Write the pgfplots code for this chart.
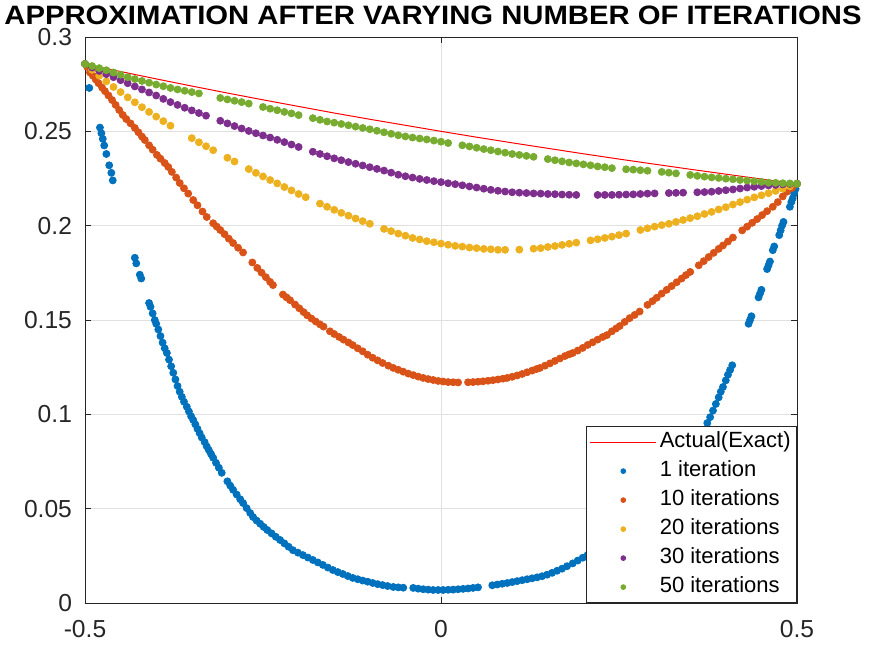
\documentclass[border=0pt]{standalone}
\usepackage{graphicx}
\usepackage{pgfplots}
\pgfplotsset{compat=1.18}
\usepackage{fontspec}
\setmainfont{Liberation Sans}
\definecolor{mblue}{rgb}{0,0.447,0.741}
\definecolor{morange}{rgb}{0.85,0.325,0.098}
\definecolor{myellow}{rgb}{0.929,0.694,0.125}
\definecolor{mpurple}{rgb}{0.494,0.184,0.556}
\definecolor{mgreen}{rgb}{0.466,0.674,0.188}
\definecolor{axgray}{rgb}{0.15,0.15,0.15}
\pgfplotsset{dotser/.style={only marks, mark=*, mark size=1.75pt, color=#1,
  legend image code/.code={\path[draw=none] (0pt,0pt) -- (33pt,0pt); \fill[#1] (16.5pt,0pt) circle (1.2pt);}}}
\begin{document}
\begin{tikzpicture}
\useasboundingbox (-42.5pt,-23.5pt) rectangle (393.5pt,301.5pt);
\begin{axis}[
  at={(0,0)}, anchor=south west,
  scale only axis, width=356pt, height=283pt,
  xmin=-0.5, xmax=0.5, ymin=0, ymax=0.3,
  xtick={-0.5,0,0.5}, xticklabels={-0.5,0,0.5},
  ytick={0,0.05,0.1,0.15,0.2,0.25,0.3},
  yticklabels={0,0.05,0.1,0.15,0.2,0.25,0.3},
  tick label style={font=\fontsize{12.3}{14}\selectfont, text=axgray},
  yticklabel style={xshift=-3pt},
  xticklabel style={yshift=-5pt},
  major tick length=3pt, tick style={axgray},
  axis line style={axgray},
  grid=major, major grid style={black!12},
  title={\scalebox{1.1}[1]{APPROXIMATION AFTER VARYING NUMBER OF ITERATIONS}},
  title style={font=\bfseries\fontsize{13.3}{15}\selectfont, at={(0.5,1)}, anchor=base, yshift=0.5pt, xshift=-4pt},
  legend cell align=left,
  legend style={at={(1,0)}, anchor=south east, draw=axgray, fill=white,
    font=\fontsize{11}{13}\selectfont, text=black, row sep=0pt, column sep=0pt,
    inner xsep=1.5pt, inner ysep=0.5pt,
    nodes={inner xsep=1.5pt, inner ysep=1.5pt, text height=8.5pt, text depth=3pt}},
]
\addplot[red, line width=0.5pt, legend image code/.code={\draw[red, line width=0.5pt] (0pt,0pt) -- (33pt,0pt);}] coordinates {
(-0.5,0.2857) (-0.45,0.2817) (-0.4,0.2778) (-0.35,0.2740) (-0.3,0.2703) (-0.25,0.2667) (-0.2,0.2632) (-0.15,0.2597) (-0.1,0.2564) (-0.05,0.2532) (0,0.25) (0.05,0.2469) (0.1,0.2439) (0.15,0.2410) (0.2,0.2381) (0.25,0.2353) (0.3,0.2326) (0.35,0.2299) (0.4,0.2273) (0.45,0.2247) (0.5,0.2222)};
\addlegendentry{Actual(Exact)}
\addplot[dotser=mblue] table {
-0.500 0.2857
-0.494 0.2730
-0.479 0.2520
-0.477 0.2490
-0.475 0.2460
-0.473 0.2425
-0.470 0.2380
-0.466 0.2320
-0.463 0.2280
-0.461 0.2240
-0.430 0.1830
-0.428 0.1800
-0.423 0.1740
-0.421 0.1720
-0.410 0.1590
-0.408 0.1570
-0.405 0.1535
-0.402 0.1500
-0.400 0.1480
-0.397 0.1450
-0.394 0.1415
-0.391 0.1380
-0.388 0.1350
-0.385 0.1325
-0.382 0.1290
-0.379 0.1255
-0.376 0.1220
-0.373 0.1185
-0.370 0.1150
-0.367 0.1120
-0.364 0.1093
-0.361 0.1067
-0.357 0.1040
-0.354 0.1015
-0.351 0.0990
-0.348 0.0970
-0.345 0.0947
-0.342 0.0923
-0.339 0.0900
-0.336 0.0877
-0.332 0.0853
-0.329 0.0830
-0.326 0.0810
-0.323 0.0790
-0.320 0.0770
-0.316 0.0743
-0.312 0.0717
-0.308 0.0690
-0.300 0.0645
-0.296 0.0622
-0.292 0.0600
-0.287 0.0575
-0.282 0.0550
-0.278 0.0530
-0.273 0.0503
-0.268 0.0477
-0.264 0.0456
-0.259 0.0437
-0.254 0.0420
-0.249 0.0403
-0.244 0.0387
-0.238 0.0369
-0.232 0.0351
-0.226 0.0334
-0.220 0.0316
-0.214 0.0298
-0.208 0.0280
-0.201 0.0267
-0.194 0.0254
-0.187 0.0241
-0.180 0.0228
-0.173 0.0215
-0.166 0.0202
-0.159 0.0188
-0.152 0.0175
-0.145 0.0164
-0.138 0.0154
-0.131 0.0143
-0.124 0.0133
-0.117 0.0126
-0.110 0.0119
-0.103 0.0113
-0.096 0.0106
-0.089 0.0100
-0.082 0.0095
-0.075 0.0090
-0.067 0.0085
-0.060 0.0083
-0.053 0.0081
-0.039 0.0080
-0.032 0.0076
-0.025 0.0073
-0.018 0.0071
-0.011 0.0069
-0.004 0.0069
0.003 0.0069
0.010 0.0070
0.017 0.0071
0.024 0.0073
0.031 0.0075
0.038 0.0077
0.045 0.0080
0.052 0.0083
0.072 0.0094
0.079 0.0098
0.086 0.0102
0.093 0.0106
0.100 0.0111
0.107 0.0116
0.114 0.0121
0.121 0.0126
0.128 0.0131
0.135 0.0136
0.142 0.0142
0.149 0.0150
0.156 0.0160
0.163 0.0171
0.170 0.0182
0.177 0.0195
0.185 0.0210
0.192 0.0225
0.199 0.0240
0.206 0.0255
0.215 0.0272
0.225 0.0295
0.235 0.0320
0.245 0.0345
0.255 0.0375
0.265 0.0410
0.275 0.0445
0.285 0.0485
0.295 0.0525
0.305 0.0570
0.315 0.0615
0.325 0.0665
0.335 0.0718
0.345 0.0775
0.355 0.0835
0.365 0.0895
0.374 0.0954
0.378 0.0985
0.382 0.1020
0.386 0.1055
0.390 0.1090
0.393 0.1120
0.396 0.1145
0.400 0.1180
0.403 0.1210
0.406 0.1235
0.409 0.1260
0.432 0.1480
0.434 0.1500
0.436 0.1520
0.446 0.1620
0.448 0.1640
0.450 0.1660
0.458 0.1770
0.460 0.1790
0.462 0.1810
0.466 0.1870
0.468 0.1890
0.475 0.1950
0.477 0.1975
0.479 0.2000
0.481 0.2020
0.490 0.2100
0.492 0.2125
0.494 0.2145
0.496 0.2170
0.498 0.2195
0.500 0.2222
};
\addlegendentry{1 iteration}
\addplot[dotser=morange] table {
-0.500 0.2857
-0.497 0.2842
-0.493 0.2812
-0.489 0.2795
-0.485 0.2775
-0.481 0.2755
-0.476 0.2732
-0.472 0.2713
-0.467 0.2690
-0.462 0.2666
-0.457 0.2640
-0.452 0.2613
-0.447 0.2587
-0.442 0.2565
-0.436 0.2542
-0.430 0.2518
-0.425 0.2495
-0.420 0.2472
-0.416 0.2454
-0.410 0.2426
-0.405 0.2403
-0.399 0.2375
-0.394 0.2355
-0.388 0.2332
-0.383 0.2311
-0.378 0.2285
-0.372 0.2255
-0.367 0.2226
-0.361 0.2198
-0.355 0.2170
-0.348 0.2136
-0.342 0.2108
-0.335 0.2075
-0.329 0.2046
-0.320 0.2013
-0.315 0.1995
-0.310 0.1977
-0.304 0.1955
-0.298 0.1931
-0.292 0.1908
-0.285 0.1883
-0.278 0.1858
-0.265 0.1805
-0.258 0.1776
-0.252 0.1751
-0.246 0.1727
-0.240 0.1702
-0.236 0.1685
-0.222 0.1635
-0.217 0.1620
-0.212 0.1605
-0.205 0.1582
-0.199 0.1562
-0.193 0.1542
-0.188 0.1525
-0.182 0.1508
-0.176 0.1492
-0.170 0.1477
-0.165 0.1465
-0.156 0.1440
-0.150 0.1426
-0.143 0.1410
-0.137 0.1396
-0.130 0.1381
-0.124 0.1367
-0.117 0.1350
-0.110 0.1334
-0.103 0.1316
-0.096 0.1300
-0.089 0.1286
-0.082 0.1272
-0.074 0.1258
-0.067 0.1246
-0.060 0.1236
-0.053 0.1226
-0.046 0.1216
-0.039 0.1208
-0.032 0.1200
-0.025 0.1193
-0.018 0.1187
-0.011 0.1182
-0.004 0.1177
0.003 0.1174
0.010 0.1171
0.017 0.1170
0.024 0.1169
0.038 0.1170
0.045 0.1171
0.052 0.1173
0.059 0.1175
0.066 0.1178
0.073 0.1181
0.080 0.1185
0.087 0.1189
0.093 0.1193
0.100 0.1199
0.107 0.1206
0.114 0.1214
0.121 0.1223
0.128 0.1232
0.134 0.1240
0.139 0.1246
0.146 0.1258
0.153 0.1270
0.160 0.1283
0.167 0.1296
0.174 0.1309
0.180 0.1318
0.185 0.1325
0.192 0.1338
0.199 0.1352
0.206 0.1368
0.213 0.1382
0.220 0.1396
0.227 0.1410
0.233 0.1420
0.240 0.1440
0.246 0.1455
0.251 0.1468
0.258 0.1490
0.265 0.1510
0.272 0.1527
0.279 0.1545
0.290 0.1580
0.297 0.1600
0.303 0.1618
0.310 0.1640
0.317 0.1660
0.324 0.1680
0.331 0.1700
0.338 0.1720
0.344 0.1738
0.350 0.1755
0.362 0.1790
0.369 0.1812
0.376 0.1834
0.383 0.1856
0.390 0.1877
0.396 0.1895
0.403 0.1916
0.410 0.1937
0.423 0.1975
0.430 0.1995
0.437 0.2015
0.444 0.2035
0.451 0.2056
0.458 0.2077
0.466 0.2100
0.473 0.2125
0.480 0.2155
0.486 0.2180
0.493 0.2200
0.500 0.2222
};
\addlegendentry{10 iterations}
\addplot[dotser=myellow] table {
-0.50 0.2857
-0.49 0.2826
-0.48 0.2795
-0.47 0.2765
-0.46 0.2735
-0.45 0.2708
-0.44 0.2680
-0.43 0.2654
-0.42 0.2628
-0.41 0.2603
-0.40 0.2578
-0.39 0.2554
-0.38 0.2530
-0.35 0.2464
-0.34 0.2442
-0.33 0.2421
-0.32 0.2400
-0.30 0.2360
-0.29 0.2340
-0.27 0.2300
-0.26 0.2280
-0.25 0.2261
-0.24 0.2242
-0.23 0.2224
-0.22 0.2205
-0.21 0.2187
-0.20 0.2168
-0.19 0.2151
-0.17 0.2117
-0.16 0.2100
-0.15 0.2084
-0.14 0.2068
-0.13 0.2053
-0.12 0.2038
-0.11 0.2024
-0.10 0.2010
-0.08 0.1983
-0.07 0.1971
-0.06 0.1958
-0.05 0.1947
-0.04 0.1935
-0.03 0.1927
-0.02 0.1918
-0.01 0.1912
0.00 0.1905
0.01 0.1899
0.02 0.1893
0.03 0.1889
0.04 0.1884
0.05 0.1881
0.06 0.1877
0.07 0.1875
0.08 0.1872
0.09 0.1872
0.11 0.1873
0.13 0.1878
0.14 0.1881
0.15 0.1887
0.16 0.1892
0.17 0.1898
0.18 0.1904
0.19 0.1910
0.21 0.1922
0.22 0.1928
0.23 0.1935
0.24 0.1942
0.25 0.1950
0.26 0.1958
0.28 0.1977
0.29 0.1986
0.30 0.1995
0.31 0.2003
0.32 0.2010
0.33 0.2020
0.34 0.2030
0.35 0.2040
0.36 0.2050
0.37 0.2062
0.38 0.2073
0.39 0.2086
0.40 0.2098
0.41 0.2112
0.42 0.2125
0.43 0.2138
0.44 0.2150
0.45 0.2161
0.46 0.2172
0.47 0.2184
0.48 0.2196
0.49 0.2209
0.50 0.2222
};
\addlegendentry{20 iterations}
\addplot[dotser=mpurple] table {
-0.50 0.2857
-0.49 0.2838
-0.48 0.2820
-0.47 0.2803
-0.46 0.2787
-0.45 0.2771
-0.44 0.2755
-0.43 0.2738
-0.42 0.2722
-0.41 0.2706
-0.40 0.2690
-0.39 0.2672
-0.38 0.2655
-0.37 0.2640
-0.36 0.2625
-0.35 0.2611
-0.34 0.2597
-0.33 0.2583
-0.31 0.2556
-0.30 0.2542
-0.29 0.2528
-0.28 0.2515
-0.27 0.2502
-0.26 0.2490
-0.25 0.2478
-0.24 0.2467
-0.23 0.2455
-0.22 0.2443
-0.21 0.2430
-0.20 0.2417
-0.18 0.2392
-0.17 0.2380
-0.16 0.2368
-0.15 0.2357
-0.14 0.2347
-0.13 0.2337
-0.12 0.2328
-0.11 0.2319
-0.10 0.2310
-0.09 0.2301
-0.08 0.2292
-0.07 0.2281
-0.06 0.2270
-0.05 0.2262
-0.04 0.2255
-0.03 0.2248
-0.02 0.2242
-0.01 0.2236
0.00 0.2231
0.01 0.2225
0.02 0.2220
0.03 0.2214
0.04 0.2208
0.05 0.2202
0.06 0.2196
0.07 0.2190
0.08 0.2185
0.09 0.2181
0.10 0.2177
0.11 0.2175
0.12 0.2173
0.13 0.2171
0.14 0.2170
0.15 0.2168
0.16 0.2167
0.17 0.2165
0.18 0.2164
0.19 0.2163
0.22 0.2163
0.23 0.2163
0.24 0.2163
0.25 0.2164
0.26 0.2165
0.27 0.2166
0.28 0.2168
0.29 0.2170
0.30 0.2171
0.32 0.2173
0.33 0.2174
0.34 0.2175
0.36 0.2177
0.37 0.2178
0.38 0.2180
0.39 0.2184
0.40 0.2188
0.41 0.2192
0.42 0.2197
0.43 0.2202
0.44 0.2206
0.45 0.2210
0.46 0.2213
0.47 0.2216
0.48 0.2219
0.49 0.2221
0.50 0.2222
};
\addlegendentry{30 iterations}
\addplot[dotser=mgreen] table {
-0.50 0.2857
-0.49 0.2846
-0.48 0.2835
-0.47 0.2824
-0.46 0.2812
-0.45 0.2800
-0.44 0.2787
-0.43 0.2777
-0.42 0.2767
-0.41 0.2758
-0.40 0.2748
-0.39 0.2739
-0.38 0.2730
-0.37 0.2722
-0.36 0.2715
-0.35 0.2708
-0.34 0.2701
-0.31 0.2677
-0.30 0.2669
-0.29 0.2662
-0.28 0.2655
-0.27 0.2647
-0.25 0.2629
-0.24 0.2620
-0.23 0.2612
-0.22 0.2603
-0.21 0.2595
-0.20 0.2586
-0.18 0.2570
-0.17 0.2561
-0.16 0.2552
-0.15 0.2546
-0.14 0.2539
-0.13 0.2532
-0.12 0.2525
-0.11 0.2518
-0.10 0.2511
-0.09 0.2503
-0.08 0.2495
-0.07 0.2487
-0.06 0.2479
-0.05 0.2473
-0.04 0.2467
-0.03 0.2462
-0.02 0.2457
-0.01 0.2451
0.00 0.2445
0.01 0.2438
0.03 0.2426
0.04 0.2420
0.05 0.2413
0.06 0.2406
0.07 0.2400
0.08 0.2393
0.09 0.2387
0.10 0.2380
0.11 0.2375
0.12 0.2370
0.13 0.2365
0.15 0.2353
0.16 0.2347
0.17 0.2341
0.18 0.2335
0.19 0.2330
0.20 0.2325
0.21 0.2320
0.22 0.2314
0.23 0.2310
0.24 0.2305
0.26 0.2299
0.27 0.2297
0.28 0.2294
0.29 0.2291
0.31 0.2285
0.32 0.2281
0.33 0.2277
0.35 0.2269
0.36 0.2264
0.37 0.2260
0.38 0.2256
0.39 0.2253
0.40 0.2249
0.41 0.2246
0.42 0.2242
0.43 0.2239
0.44 0.2235
0.45 0.2232
0.46 0.2228
0.47 0.2227
0.48 0.2225
0.49 0.2224
0.50 0.2222
};
\addlegendentry{50 iterations}
\end{axis}
\end{tikzpicture}
\end{document}
